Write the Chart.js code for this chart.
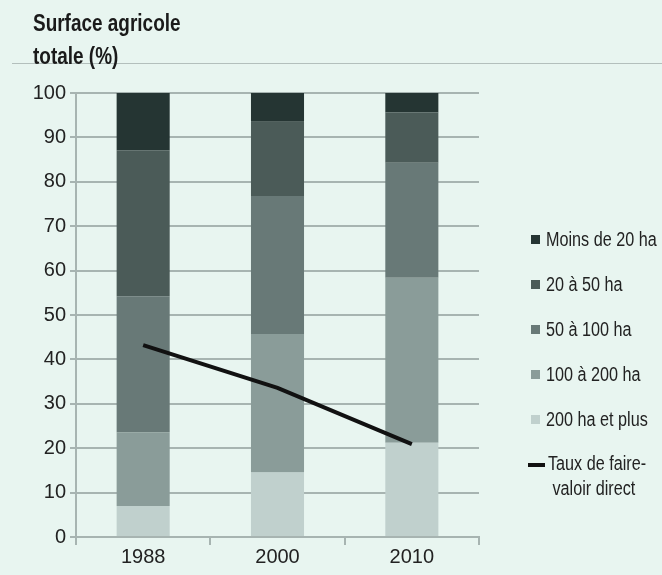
<!DOCTYPE html>
<html>
<head>
<meta charset="utf-8">
<script src="https://cdn.jsdelivr.net/npm/chart.js@4.4.1/dist/chart.umd.min.js"></script>
<style>
  html, body { margin:0; padding:0; background:#e8f5f0; }
  body { width:662px; height:575px; position:relative; overflow:hidden;
         font-family:"Liberation Sans",Arial,sans-serif; }
  #wrap { position:absolute; left:0; top:0; width:662px; height:575px; }
  #title { position:absolute; left:33px; top:6px; font-weight:bold; font-size:24px; line-height:33px; color:#1a1a1a;
           transform:scaleX(0.79); transform-origin:0 0; white-space:nowrap; }
  #rule { position:absolute; left:12px; top:63px; width:650px; height:1px; background:#b3bfbc; }
  #legend { position:absolute; left:528px; top:228px; color:#222; font-size:20px; }
  .li { position:absolute; left:0; white-space:nowrap; display:flex; align-items:flex-start; }
  .sw { width:9px; height:9px; margin:7px 6px 0 3px; }
  .ln { width:17px; height:4px; background:#111; margin:10px 3px 0 0; }
  .tx { display:inline-block; transform:scaleX(0.81); transform-origin:0 0; }
</style>
</head>
<body>
<div id="wrap"><canvas id="c" width="662" height="575"></canvas></div>
<div id="rule"></div>
<div id="title">Surface agricole<br>totale (%)</div>
<div id="legend"></div>
<script>
const categories = ["1988", "2000", "2010"];
const seriesNames = ["200 ha et plus", "100 à 200 ha", "50 à 100 ha", "20 à 50 ha", "Moins de 20 ha"];
const s200plus = [7, 14.5, 21.2];
const s100to200 = [16.6, 31.2, 37.2];
const s50to100 = [30.6, 31.1, 25.9];
const s20to50 = [32.9, 16.7, 11.3];
const sUnder20 = [12.9, 6.5, 4.4];
const lineName = "Taux de faire-valoir direct";
const lineValues = [43.2, 33.6, 20.9];
const yTicks = [0, 10, 20, 30, 40, 50, 60, 70, 80, 90, 100];

const colors = ["#c0d0cd", "#8a9c99", "#687977", "#4b5b58", "#253533"];
const seriesValues = [s200plus, s100to200, s50to100, s20to50, sUnder20];
const FONT = "'Liberation Sans',Arial,sans-serif";

const datasets = seriesValues.map((vals, i) => ({
  type: 'bar', label: seriesNames[i], data: vals, backgroundColor: colors[i],
  stack: 'bars', order: 1, barPercentage: 0.395, categoryPercentage: 1.0, borderWidth: 0
}));
datasets.push({
  type: 'line', label: lineName, data: lineValues, borderColor: '#111111', borderWidth: 4,
  pointRadius: 0, fill: false, tension: 0, stack: 'line', order: 0
});

new Chart(document.getElementById('c'), {
  data: { labels: categories, datasets },
  options: {
    responsive: false, animation: false,
    layout: { padding: { left: 0, right: 183, top: 93, bottom: 0 } },
    plugins: { legend: { display: false }, tooltip: { enabled: false }, title: { display: false } },
    scales: {
      x: {
        stacked: true,
        grid: { offset: true, drawOnChartArea: false, drawTicks: true, tickLength: 8, color: '#a7b4b1', lineWidth: 2 },
        border: { color: '#a7b4b1', width: 2 },
        ticks: { color: '#222', font: { family: FONT, size: 20 }, padding: 0 },
        afterFit: s => { s.height = 38; }
      },
      y: {
        stacked: true, min: 0, max: 100,
        afterBuildTicks: s => { s.ticks = yTicks.map(v => ({ value: v })); },
        grid: { color: '#a7b4b1', lineWidth: 2, tickLength: 6 },
        border: { color: '#a7b4b1', width: 2 },
        ticks: { color: '#222', font: { family: FONT, size: 20 }, padding: 4 },
        afterFit: s => { s.width = 76; }
      }
    }
  }
});

const legendItems = [4, 3, 2, 1, 0].map(i => ({ name: seriesNames[i], color: colors[i] }));
const lg = document.getElementById('legend');
legendItems.forEach((it, k) => {
  const d = document.createElement('div');
  d.className = 'li'; d.style.top = (k * 45) + 'px';
  d.innerHTML = '<span class="sw" style="background:' + it.color + '"></span><span class="tx">' + it.name + '</span>';
  lg.appendChild(d);
});
const dl = document.createElement('div');
dl.className = 'li'; dl.style.top = (5 * 45) + 'px';
dl.innerHTML = '<span class="ln"></span><span class="tx" style="line-height:25px;margin-top:-2px">Taux de faire-<br>&nbsp;valoir direct</span>';
lg.appendChild(dl);
</script>
</body>
</html>
